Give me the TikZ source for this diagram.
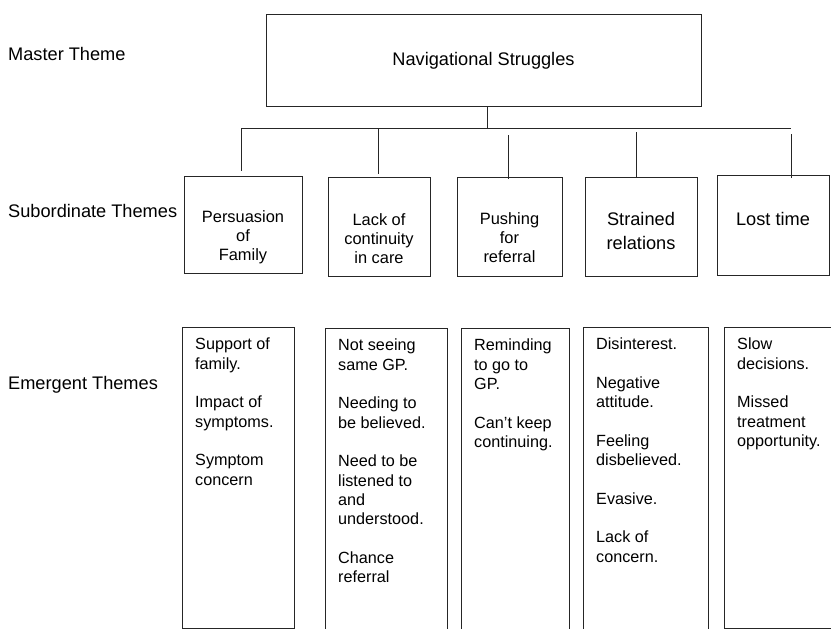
\documentclass[tikz,border=0pt]{standalone}
\usepackage{fontspec}
\setmainfont{Liberation Sans}
\tikzset{
  box/.style={draw=black!85,line width=1pt,inner sep=0pt},
  link/.style={draw=black!85,line width=1pt},
  levellabel/.style={anchor=base west,inner sep=0pt,font=\fontsize{18.2}{21}\selectfont},
  subtext/.style={anchor=north,inner sep=0pt,align=center,font=\fontsize{16.4}{19.2}\selectfont},
  bigsubtext/.style={anchor=north,inner sep=0pt,align=center,font=\fontsize{18.2}{24}\selectfont},
  emtext/.style={anchor=north west,inner sep=0pt,align=left,font=\fontsize{16.2}{19.3}\selectfont}
}
\begin{document}
\begin{tikzpicture}[x=1pt,y=-1pt]
\useasboundingbox (0,0) rectangle (831,629);
\clip (0,0) rectangle (831,629);

% level names on the left
\node[levellabel] (lmaster) at (8,60) {Master Theme};
\node[levellabel] (lsub) at (8,217) {Subordinate Themes};
\node[levellabel] (lem) at (8,389) {Emergent Themes};

% master theme
\node[box,minimum width=435pt,minimum height=92pt] (master) at (483.5,60) {};
\node[anchor=base,inner sep=0pt,font=\fontsize{18.2}{21}\selectfont] (mastert) at ([yshift=-5pt]master.center) {Navigational Struggles};

% subordinate themes
\foreach \n/\cx/\cy/\w/\h in {1/243/224.5/118/97, 2/379/226.5/102/99, 3/509.5/226.5/105/99, 4/641/226.5/112/99, 5/773/225/112/100}
  \node[box,minimum width=\w pt,minimum height=\h pt] (sub\n) at (\cx,\cy) {};
\node[subtext] (sub1t) at ([yshift=-35pt]sub1.north) {Persuasion\\of\\Family};
\node[subtext] (sub2t) at ([yshift=-37pt]sub2.north) {Lack of\\continuity\\in care};
\node[subtext] (sub3t) at ([yshift=-36pt]sub3.north) {Pushing\\for\\referral};
\node[bigsubtext] (sub4t) at ([yshift=-36pt]sub4.north) {Strained\\relations};
\node[bigsubtext] (sub5t) at ([yshift=-38pt]sub5.north) {Lost time};

% tree lines
\coordinate (hub) at (487,128);
\coordinate (barL) at (241,128);
\coordinate (barR) at (791,128);
\draw[link] (master.south -| hub) -- (hub);
\draw[link] (barL) -- (barR);
\foreach \n/\x/\a/\b in {1/241/0/5, 2/378/0/3, 3/508/7/-2, 4/636/4/0, 5/791/6/-3}{
  \coordinate (drop\n) at (\x,128);
  \path (drop\n |- sub\n.north) coordinate (top\n);
  \draw[link] ([yshift=-\a pt]drop\n) -- ([yshift=\b pt]top\n);
}

% emergent themes
\foreach \n/\x/\y/\w/\h in {1/182/327/112/301, 2/325/328/122/312, 3/461/328/108/312, 4/583/327/125/313, 5/724/327/118/301}
  \node[box,anchor=north west,minimum width=\w pt,minimum height=\h pt] (em\n) at (\x,\y) {};
\node[emtext] (em1t) at ([xshift=13pt,yshift=-11pt]em1.north west)
  {Support of\\family.\\[19.3pt]Impact of\\symptoms.\\[19.3pt]Symptom\\concern};
\node[emtext] (em2t) at ([xshift=13pt,yshift=-11pt]em2.north west)
  {Not seeing\\same GP.\\[19.3pt]Needing to\\be believed.\\[19.3pt]Need to be\\listened to\\and\\understood.\\[19.3pt]Chance\\referral};
\node[emtext] (em3t) at ([xshift=13pt,yshift=-11pt]em3.north west)
  {Reminding\\to go to\\GP.\\[19.3pt]Can’t keep\\continuing.};
\node[emtext] (em4t) at ([xshift=13pt,yshift=-11pt]em4.north west)
  {Disinterest.\\[19.3pt]Negative\\attitude.\\[19.3pt]Feeling\\disbelieved.\\[19.3pt]Evasive.\\[19.3pt]Lack of\\concern.};
\node[emtext] (em5t) at ([xshift=13pt,yshift=-11pt]em5.north west)
  {Slow\\decisions.\\[19.3pt]Missed\\treatment\\opportunity.};
\end{tikzpicture}
\end{document}
